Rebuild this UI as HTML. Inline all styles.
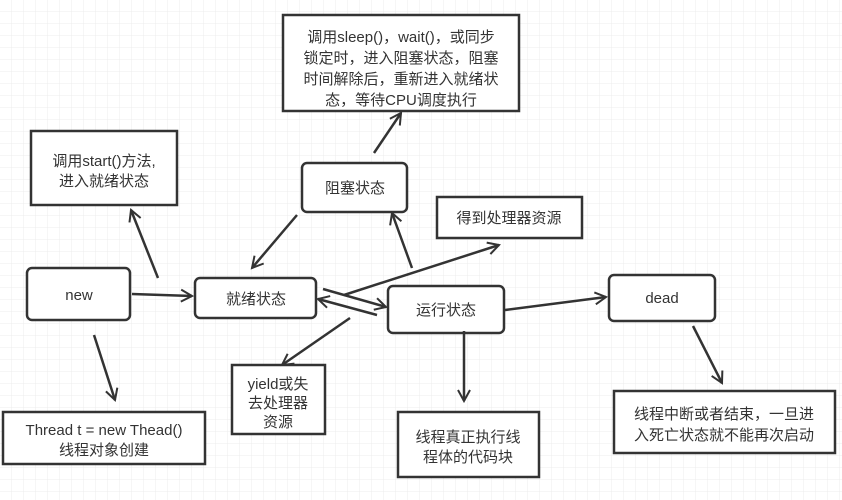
<!DOCTYPE html>
<html><head><meta charset="utf-8"><style>
body{margin:0;background:#fff}
svg{display:block}
text{font-family:"Liberation Sans","Noto Sans CJK SC",sans-serif;font-size:15px;fill:#333}
</style></head><body>
<svg width="842" height="500" viewBox="0 0 842 500" xmlns="http://www.w3.org/2000/svg">
<defs>
<pattern id="g" width="12" height="12" patternUnits="userSpaceOnUse">
<path d="M12 0V12M0 12H12" stroke="#ececec" stroke-width="1" fill="none"/>
</pattern>
<marker id="a" markerWidth="14" markerHeight="14" refX="12" refY="7" orient="auto" markerUnits="userSpaceOnUse">
<path d="M1 1L12 7L1 13" fill="none" stroke="#333" stroke-width="2"/>
</marker>
</defs>
<rect width="842" height="500" fill="url(#g)"/>
<g fill="#fff" stroke="#333" stroke-width="2.5">
<rect x="31" y="131" width="146" height="74"/>
<rect x="283" y="15" width="236" height="96"/>
<rect x="302" y="163" width="105" height="49" rx="5"/>
<rect x="27" y="268" width="103" height="52" rx="5"/>
<rect x="195" y="278" width="121" height="40" rx="5"/>
<rect x="388" y="286" width="116" height="47" rx="5"/>
<rect x="437" y="197" width="145" height="41"/>
<rect x="609" y="275" width="106" height="46" rx="5"/>
<rect x="232" y="365" width="93" height="69"/>
<rect x="3" y="412" width="202" height="52"/>
<rect x="398" y="412" width="141" height="65"/>
<rect x="614" y="391" width="221" height="62"/>
</g>
<g stroke="#333" stroke-width="2.5" fill="none" marker-end="url(#a)">
<line x1="132" y1="294" x2="192" y2="296"/>
<line x1="94" y1="335" x2="115" y2="400"/>
<line x1="158" y1="278" x2="131" y2="210"/>
<line x1="297" y1="215" x2="252" y2="268"/>
<line x1="374" y1="153" x2="401" y2="113"/>
<line x1="412" y1="268" x2="392" y2="213"/>
<line x1="323" y1="289" x2="386" y2="307"/>
<line x1="377" y1="315" x2="318" y2="299"/>
<line x1="344" y1="295" x2="499" y2="245"/>
<line x1="350" y1="318" x2="282" y2="365"/>
<line x1="505" y1="310" x2="606" y2="297"/>
<line x1="464" y1="331" x2="464" y2="401"/>
<line x1="693" y1="326" x2="722" y2="383"/>
</g>
<g text-anchor="middle">
<text x="104" y="166">调用start()方法,</text>
<text x="104" y="186">进入就绪状态</text>
<text x="401" y="42">调用sleep()，wait()，或同步</text>
<text x="401" y="63">锁定时，进入阻塞状态，阻塞</text>
<text x="401" y="84">时间解除后，重新进入就绪状</text>
<text x="401" y="105">态，等待CPU调度执行</text>
<text x="355" y="193">阻塞状态</text>
<text x="79" y="300">new</text>
<text x="256" y="304">就绪状态</text>
<text x="446" y="315">运行状态</text>
<text x="509" y="223">得到处理器资源</text>
<text x="662" y="303">dead</text>
<text x="278" y="389">yield或失</text>
<text x="278" y="408">去处理器</text>
<text x="278" y="427">资源</text>
<text x="104" y="435">Thread t = new Thead()</text>
<text x="104" y="455">线程对象创建</text>
<text x="468" y="442">线程真正执行线</text>
<text x="468" y="462">程体的代码块</text>
<text x="724" y="419">线程中断或者结束，一旦进</text>
<text x="724" y="440">入死亡状态就不能再次启动</text>
</g>
</svg>
</body></html>
